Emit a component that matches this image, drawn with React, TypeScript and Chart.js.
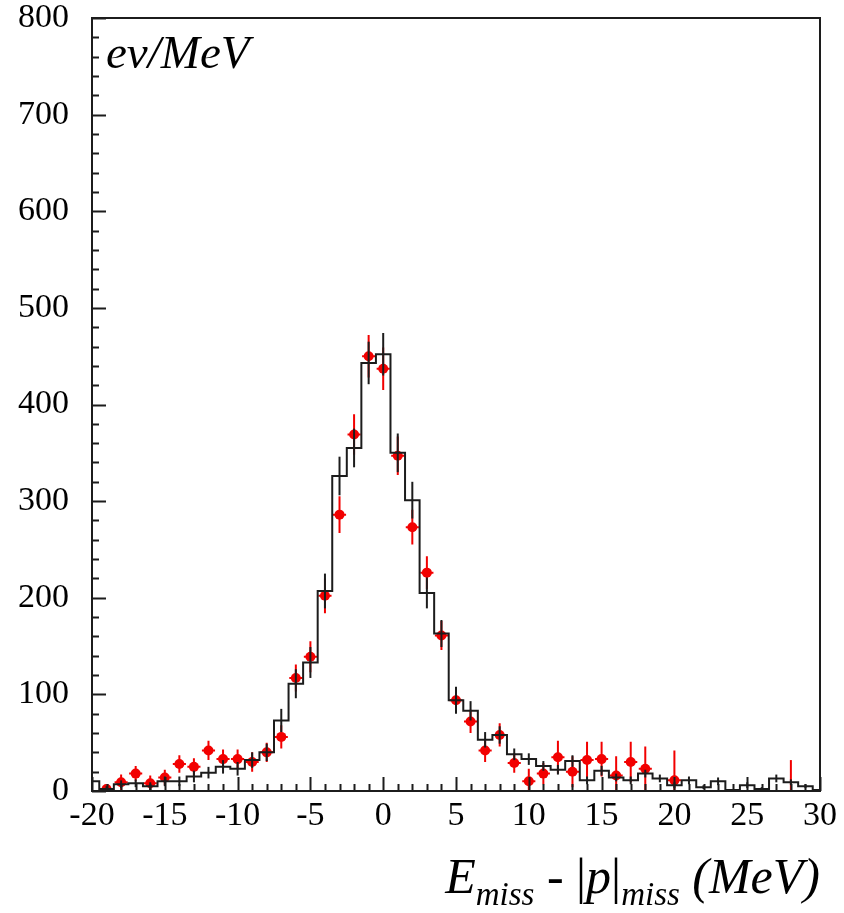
import React, { useEffect, useRef } from "react";
import { Chart, registerables } from "chart.js";

Chart.register(...registerables);

// Histogram (simulation), 1 MeV bins centred on integer values
const binCenters = [
  -20, -19, -18, -17, -16, -15, -14, -13, -12, -11, -10, -9, -8, -7, -6, -5, -4, -3, -2, -1,
  0, 1, 2, 3, 4, 5, 6, 7, 8, 9, 10, 11, 12, 13, 14, 15, 16, 17, 18, 19, 20, 21, 22, 23, 24,
  25, 26, 27, 28, 29, 30,
];
const histCounts = [
  10, 2, 7, 8, 5, 10, 10, 15, 19, 25, 23, 32, 40, 73, 111, 133, 207, 326, 355, 443,
  452, 350, 301, 205, 163, 94, 83, 53, 58, 38, 33, 26, 22, 31, 11, 21, 14, 11, 18, 13,
  6, 11, 4, 10, 1, 6, 2, 13, 9, 5, 1,
];
const histErrors = [
  5, 3, 4, 4, 4, 5, 5, 6, 6, 7, 7, 8, 9, 12, 15, 16, 18, 20, 20, 22,
  22, 20, 19, 16, 14, 14, 10, 8, 9, 6, 6, 5, 5, 6, 4, 5, 4, 4, 4, 4,
  3, 4, 2, 4, 1, 3, 2, 4, 3, 2, 1,
];

// Measured events
const dataX = [
  -19, -18, -17, -16, -15, -14, -13, -12, -11, -10, -9, -8, -7, -6, -5, -4, -3, -2, -1,
  0, 1, 2, 3, 4, 5, 6, 7, 8, 9, 10, 11, 12, 13, 14, 15, 16, 17, 18, 20, 28,
];
const dataY = [
  2, 9, 18, 8, 14, 28, 25, 42, 33, 33, 30, 40, 56, 117, 139, 202, 286, 369, 450,
  437, 347, 273, 226, 161, 94, 72, 42, 58, 29, 10, 18, 35, 20, 32, 33, 16, 30, 23, 11, 0,
];
const dataErr = [
  5, 8, 8, 8, 8, 9, 9, 10, 10, 10, 10, 10, 12, 14, 16, 18, 19, 21, 22,
  22, 20, 18, 17, 15, 13, 12, 12, 12, 10, 13, 11, 17, 16, 19, 18, 20, 21, 23, 31, 32,
];

const xTickLabels = ["-20", "-15", "-10", "-5", "0", "5", "10", "15", "20", "25", "30"];
const yTickLabels = ["0", "100", "200", "300", "400", "500", "600", "700", "800"];

const SERIF = "'Liberation Serif', 'Times New Roman', serif";
const RED = "#f20000";
const INK = "#1c1c1c";

const overlayPlugin = {
  id: "errorBarsAndFrame",
  beforeDatasetsDraw(chart: any) {
    const { ctx, chartArea: a, scales } = chart;
    const xs = scales.x;
    const ys = scales.y;
    ctx.save();
    ctx.beginPath();
    ctx.rect(a.left, a.top, a.right - a.left, a.bottom - a.top);
    ctx.clip();
    ctx.strokeStyle = RED;
    ctx.lineWidth = 2;
    dataX.forEach((x, i) => {
      const px = xs.getPixelForValue(x);
      const y = dataY[i];
      const e = dataErr[i];
      ctx.beginPath();
      ctx.moveTo(px, ys.getPixelForValue(y - e));
      ctx.lineTo(px, ys.getPixelForValue(y + e));
      if (y > 0) {
        const py = ys.getPixelForValue(y);
        ctx.moveTo(xs.getPixelForValue(x - 0.45), py);
        ctx.lineTo(xs.getPixelForValue(x + 0.45), py);
      }
      ctx.stroke();
    });
    ctx.restore();
  },
  afterDatasetsDraw(chart: any) {
    const { ctx, chartArea: a, scales } = chart;
    const xs = scales.x;
    const ys = scales.y;

    // simulation error bars
    ctx.save();
    ctx.beginPath();
    ctx.rect(a.left, a.top, a.right - a.left, a.bottom - a.top);
    ctx.clip();
    ctx.strokeStyle = INK;
    ctx.lineWidth = 2;
    binCenters.forEach((x, i) => {
      const px = xs.getPixelForValue(x);
      ctx.beginPath();
      ctx.moveTo(px, ys.getPixelForValue(histCounts[i] - histErrors[i]));
      ctx.lineTo(px, ys.getPixelForValue(histCounts[i] + histErrors[i]));
      ctx.stroke();
    });
    ctx.restore();

    // frame and inward tick marks
    ctx.save();
    ctx.strokeStyle = INK;
    ctx.lineWidth = 2;
    ctx.strokeRect(a.left, a.top, a.right - a.left, a.bottom - a.top);
    ctx.beginPath();
    for (let v = 0; v <= 800; v += 20) {
      const py = Math.round(ys.getPixelForValue(v)) + 0.5;
      const len = v % 100 === 0 ? 14 : 7;
      ctx.moveTo(a.left, py);
      ctx.lineTo(a.left + len, py);
    }
    for (let v = -20; v <= 30; v += 1) {
      const px = Math.round(xs.getPixelForValue(v)) + 0.5;
      const len = v % 5 === 0 ? 14 : 7;
      ctx.moveTo(px, a.bottom);
      ctx.lineTo(px, a.bottom - len);
    }
    ctx.stroke();

    // y unit label
    ctx.fillStyle = "#000";
    ctx.textBaseline = "alphabetic";
    ctx.textAlign = "left";
    ctx.font = `italic 47px ${SERIF}`;
    ctx.fillText("ev/MeV", 106, 68);

    // x axis title: E_miss - |p|_miss (MeV), right aligned to the frame
    const big = `italic 50px ${SERIF}`;
    const bigUp = `50px ${SERIF}`;
    const small = `italic 33px ${SERIF}`;
    const parts: [string, string, number][] = [
      ["E", big, 0],
      ["miss", small, 12],
      [" - ", bigUp, 0],
      ["|", bigUp, 0],
      ["p", big, 0],
      ["|", bigUp, 0],
      ["miss", small, 12],
      [" (MeV)", big, 0],
    ];
    let total = 0;
    parts.forEach(([t, f]) => {
      ctx.font = f;
      total += ctx.measureText(t).width;
    });
    let cx = a.right - total;
    const base = 893;
    parts.forEach(([t, f, dy]) => {
      ctx.font = f;
      ctx.fillText(t, cx, base + dy);
      cx += ctx.measureText(t).width;
    });
    ctx.restore();
  },
};

export default function App() {
  const canvasRef = useRef<HTMLCanvasElement | null>(null);

  useEffect(() => {
    const canvas = canvasRef.current;
    if (!canvas) return;
    const chart = new Chart(canvas, {
      type: "line",
      data: {
        datasets: [
          {
            type: "line",
            label: "simulation",
            data: binCenters.map((x, i) => ({ x, y: histCounts[i] })),
            stepped: "middle",
            borderColor: INK,
            borderWidth: 2,
            pointRadius: 0,
            fill: false,
            order: 0,
          },
          {
            type: "scatter",
            label: "data",
            data: dataX.map((x, i) => ({ x, y: dataY[i] })),
            pointRadius: dataY.map((v) => (v > 0 ? 5 : 0)),
            pointBackgroundColor: RED,
            pointBorderWidth: 0,
            order: 1,
          },
        ] as any,
      },
      options: {
        responsive: false,
        animation: false,
        devicePixelRatio: 1,
        layout: { padding: { left: 0, right: 24, top: 18, bottom: 0 } },
        plugins: {
          legend: { display: false },
          tooltip: { enabled: false },
          title: { display: false },
        },
        scales: {
          x: {
            type: "linear",
            min: -20,
            max: 30,
            grid: { display: false, drawTicks: false },
            border: { display: false },
            afterBuildTicks: (scale: any) => {
              scale.ticks = xTickLabels.map((t) => ({ value: Number(t) }));
            },
            afterFit: (scale: any) => {
              scale.height = 122;
              scale.paddingLeft = 0;
              scale.paddingRight = 0;
            },
            ticks: {
              color: "#000",
              padding: 5,
              maxRotation: 0,
              autoSkip: false,
              font: { family: SERIF, size: 34 },
              callback: (v: any) => String(v),
            },
          },
          y: {
            type: "linear",
            min: 0,
            max: 800,
            grid: { display: false, drawTicks: false },
            border: { display: false },
            afterBuildTicks: (scale: any) => {
              scale.ticks = yTickLabels.map((t) => ({ value: Number(t) }));
            },
            afterFit: (scale: any) => {
              scale.width = 92;
              scale.paddingTop = 0;
              scale.paddingBottom = 0;
            },
            ticks: {
              color: "#000",
              padding: 23,
              autoSkip: false,
              font: { family: SERIF, size: 34 },
              callback: (v: any) => String(v),
            },
          },
        },
      } as any,
      plugins: [overlayPlugin],
    });
    return () => chart.destroy();
  }, []);

  return (
    <div
      style={{
        position: "absolute",
        left: 0,
        top: 0,
        width: 844,
        height: 913,
        background: "#fff",
      }}
    >
      <canvas ref={canvasRef} width={844} height={913} style={{ display: "block" }} />
    </div>
  );
}
